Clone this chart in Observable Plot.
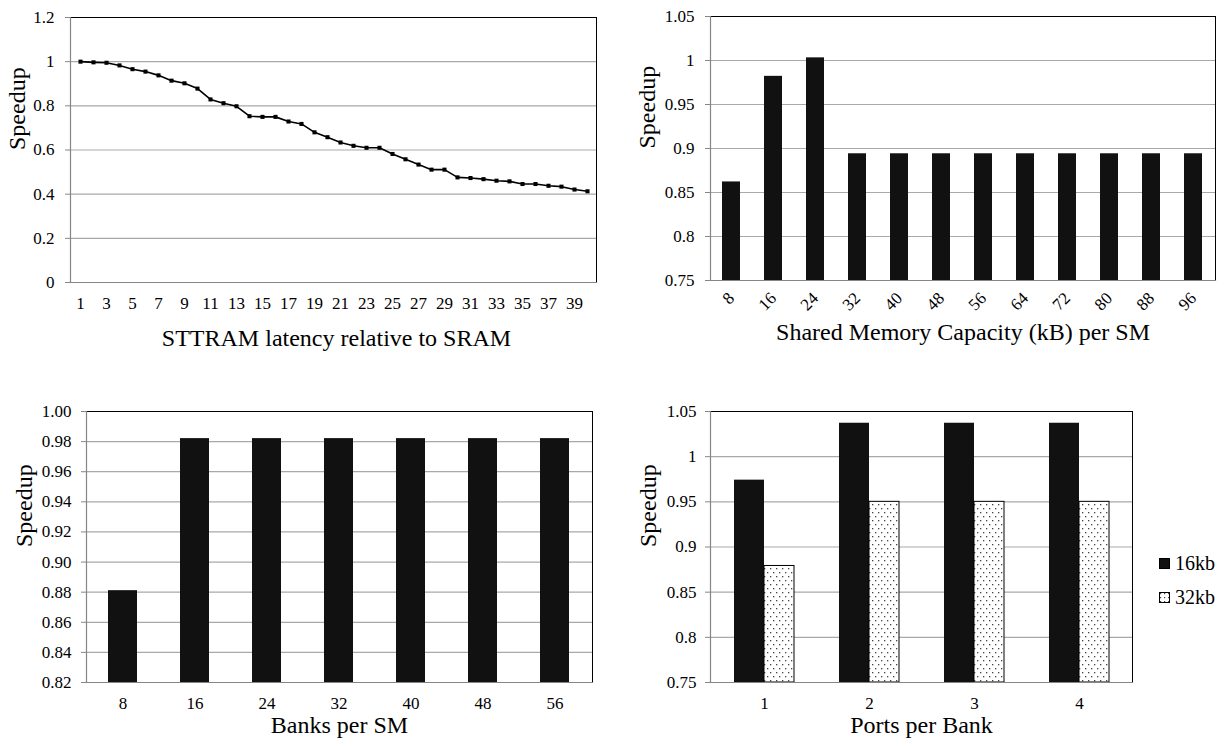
<!DOCTYPE html>
<html><head><meta charset="utf-8">
<script src="https://cdn.jsdelivr.net/npm/d3@7"></script>
<script src="https://cdn.jsdelivr.net/npm/@observablehq/plot@0.6"></script>
<style>
body{margin:0;background:#fff;}
#root{position:relative;width:1226px;height:747px;overflow:hidden;font-family:"Liberation Serif","Times New Roman",Times,Tinos,"Noto Serif","DejaVu Serif",FreeSerif,serif;color:#000;}
.panel{position:absolute;}
.panel text{font-family:"Liberation Serif","Times New Roman",Times,Tinos,"Noto Serif","DejaVu Serif",FreeSerif,serif !important;}
.lg{position:absolute;left:1159px;height:24px;line-height:24px;font-size:20px;display:flex;align-items:center;gap:5px;}
</style></head><body><div id="root"></div>
<script>
// ---- data ----
const latencyX = [1,2,3,4,5,6,7,8,9,10,11,12,13,14,15,16,17,18,19,20,21,22,23,24,25,26,27,28,29,30,31,32,33,34,35,36,37,38,39,40];
const latencySpeedup = [1.000,0.997,0.995,0.983,0.966,0.955,0.938,0.914,0.902,0.878,0.829,0.812,0.798,0.753,0.750,0.750,0.729,0.718,0.680,0.658,0.634,0.619,0.610,0.610,0.582,0.558,0.534,0.511,0.511,0.476,0.473,0.468,0.461,0.458,0.446,0.446,0.438,0.434,0.421,0.413];
const latencyTickLabels = [1,3,5,7,9,11,13,15,17,19,21,23,25,27,29,31,33,35,37,39];
const latencyYTicks = [0,0.2,0.4,0.6,0.8,1,1.2];

const capacityKB = ["8","16","24","32","40","48","56","64","72","80","88","96"];
const capacitySpeedup = [0.862,0.982,1.003,0.894,0.894,0.894,0.894,0.894,0.894,0.894,0.894,0.894];
const capacityYTicks = [0.75,0.8,0.85,0.9,0.95,1,1.05];

const banks = ["8","16","24","32","40","48","56"];
const bankSpeedup = [0.881,0.982,0.982,0.982,0.982,0.982,0.982];
const bankYTicks = [0.82,0.84,0.86,0.88,0.90,0.92,0.94,0.96,0.98,1.00];

const ports = ["1","2","3","4"];
const seriesNames = ["16kb","32kb"];
const port16kb = [0.974,1.037,1.037,1.037];
const port32kb = [0.879,0.950,0.950,0.950];
const portYTicks = [0.75,0.8,0.85,0.9,0.95,1,1.05];

// ---- helpers ----
const FONT = '"Liberation Serif","Times New Roman",Times,Tinos,"Noto Serif","DejaVu Serif",FreeSerif,serif';
const GRID = "#a9a9a9", AXIS = "#868686", BAR = "#111";
const fmtShort = d => String(+d.toFixed(2));
const fmtFixed2 = d => d.toFixed(2);
const style = {fontFamily: FONT, fontSize: "17px", color: "#000", background: "transparent", overflow: "visible"};
const root = document.getElementById("root");
function place(svg, left, top) { svg.classList.add("panel"); svg.style.left = left + "px"; svg.style.top = top + "px"; root.appendChild(svg); }
function frameMarks() {
  return [
    Plot.frame({stroke: "#000", strokeWidth: 1}),
    Plot.frame({anchor: "left", stroke: AXIS, strokeWidth: 1.2}),
    Plot.frame({anchor: "bottom", stroke: AXIS, strokeWidth: 1.2})
  ];
}
const yLabel = (dx) => Plot.text(["Speedup"], {text: d => d, frameAnchor: "left", dx, rotate: -90, fontSize: 24, fontFamily: FONT});
const xLabel = (t, dy, dx = 0) => Plot.text([t], {text: d => d, frameAnchor: "bottom", dy, dx, fontSize: 24, fontFamily: FONT});

// ---- A: latency line ----
const latData = latencyX.map((x, i) => ({x, v: latencySpeedup[i]}));
place(Plot.plot({
  width: 610, height: 370, marginLeft: 70, marginRight: 14, marginTop: 17, marginBottom: 88,
  style,
  x: {type: "point", domain: latencyX, padding: 0.5},
  y: {domain: [0, 1.2]},
  marks: [
    Plot.ruleY(latencyYTicks.slice(1), {stroke: GRID, strokeWidth: 1.2}),
    ...frameMarks(),
    Plot.axisY(latencyYTicks, {tickSize: 5, tickPadding: 11, stroke: AXIS, tickFormat: fmtShort, fontSize: 17, fontFamily: FONT, label: null}),
    Plot.axisX(latencyTickLabels, {tickSize: 0, tickPadding: 14, fontSize: 17, fontFamily: FONT, label: null}),
    Plot.line(latData, {x: "x", y: "v", stroke: "#000", strokeWidth: 1.6}),
    Plot.dot(latData, {x: "x", y: "v", symbol: "square", r: 2.3, fill: "#000", stroke: "none"}),
    yLabel(-53),
    xLabel("STTRAM latency relative to SRAM", 63, 3)
  ]
}), 0, 0);

// ---- B: capacity bars ----
const capData = capacityKB.map((k, i) => ({k, v: capacitySpeedup[i]}));
place(Plot.plot({
  width: 613, height: 370, marginLeft: 97, marginRight: 11, marginTop: 16, marginBottom: 90,
  style,
  x: {type: "band", domain: capacityKB, paddingInner: 0.565, paddingOuter: 0.2825},
  y: {domain: [0.75, 1.05]},
  marks: [
    Plot.ruleY(capacityYTicks.slice(1), {stroke: GRID, strokeWidth: 1.2}),
    Plot.barY(capData, {x: "k", y1: () => 0.75, y2: "v", fill: BAR}),
    ...frameMarks(),
    Plot.axisY(capacityYTicks, {tickSize: 5, tickPadding: 11, stroke: AXIS, tickFormat: fmtShort, fontSize: 17, fontFamily: FONT, label: null}),
    Plot.axisX(capacityKB, {tickSize: 0, tickPadding: 15, tickRotate: -45, fontSize: 17, fontFamily: FONT, label: null}),
    yLabel(-63.5),
    xLabel("Shared Memory Capacity (kB) per SM", 59)
  ]
}), 613, 0);

// ---- C: banks bars ----
const bankData = banks.map((b, i) => ({b, v: bankSpeedup[i]}));
place(Plot.plot({
  width: 610, height: 372, marginLeft: 86, marginRight: 18, marginTop: 36, marginBottom: 65,
  style,
  x: {type: "band", domain: banks, paddingInner: 0.595, paddingOuter: 0.2975},
  y: {domain: [0.82, 1.00]},
  marks: [
    Plot.ruleY(bankYTicks.slice(1), {stroke: GRID, strokeWidth: 1.2}),
    Plot.barY(bankData, {x: "b", y1: () => 0.82, y2: "v", fill: BAR}),
    ...frameMarks(),
    Plot.axisY(bankYTicks, {tickSize: 5, tickPadding: 10, stroke: AXIS, tickFormat: fmtFixed2, fontSize: 17, fontFamily: FONT, label: null}),
    Plot.axisX(banks, {tickSize: 0, tickPadding: 14, fontSize: 17, fontFamily: FONT, label: null}),
    yLabel(-62.5),
    xLabel("Banks per SM", 50)
  ]
}), 0, 375);

// ---- D: ports grouped bars ----
const p16 = ports.map((p, i) => ({p, s: seriesNames[0], v: port16kb[i]}));
const p32 = ports.map((p, i) => ({p, s: seriesNames[1], v: port32kb[i]}));
const dotsDefs = (id) => () => {
  const defs = d3.create("svg:defs");
  const pat = defs.append("pattern").attr("id", id).attr("patternUnits", "userSpaceOnUse").attr("width", 6).attr("height", 8);
  pat.append("rect").attr("width", 6).attr("height", 8).attr("fill", "#fff");
  pat.append("rect").attr("x", 1).attr("y", 1).attr("width", 1.3).attr("height", 1.3).attr("fill", "#444");
  pat.append("rect").attr("x", 4).attr("y", 5).attr("width", 1.3).attr("height", 1.3).attr("fill", "#444");
  return defs.node();
};
place(Plot.plot({
  width: 613, height: 372, marginLeft: 97, marginRight: 94, marginTop: 36, marginBottom: 65,
  style,
  x: {type: "band", domain: ports, paddingInner: 0.43, paddingOuter: 0.215},
  y: {domain: [0.75, 1.05]},
  marks: [
    dotsDefs("dotsD"),
    Plot.ruleY(portYTicks.slice(1), {stroke: GRID, strokeWidth: 1.2}),
    Plot.barY(p16, {x: "p", y1: () => 0.75, y2: "v", fill: BAR, insetRight: 30}),
    Plot.barY(p32, {x: "p", y1: () => 0.75, y2: "v", fill: "url(#dotsD)", stroke: "#000", strokeWidth: 1, insetLeft: 30}),
    ...frameMarks(),
    Plot.axisY(portYTicks, {tickSize: 5, tickPadding: 9, stroke: AXIS, tickFormat: fmtShort, fontSize: 17, fontFamily: FONT, label: null}),
    Plot.axisX(ports, {tickSize: 0, tickPadding: 14, fontSize: 17, fontFamily: FONT, label: null}),
    yLabel(-62),
    xLabel("Ports per Bank", 50)
  ]
}), 613, 375);

// ---- legend for D ----
const swatch = (name, i) => {
  const row = document.createElement("div");
  row.className = "lg";
  row.style.top = (551 + i * 34) + "px";
  const sw = i === 0
    ? `<svg width="11" height="11"><rect x="0.5" y="0.5" width="10" height="10" fill="${BAR}" stroke="#000"/></svg>`
    : `<svg width="11" height="11"><defs><pattern id="dotsL" patternUnits="userSpaceOnUse" width="4" height="4"><rect width="4" height="4" fill="#fff"/><rect x="1" y="1" width="1.2" height="1.2" fill="#444"/></pattern></defs><rect x="0.5" y="0.5" width="10" height="10" fill="url(#dotsL)" stroke="#000"/></svg>`;
  row.innerHTML = sw + `<span>${name}</span>`;
  root.appendChild(row);
};
seriesNames.forEach(swatch);
</script>
</body></html>
